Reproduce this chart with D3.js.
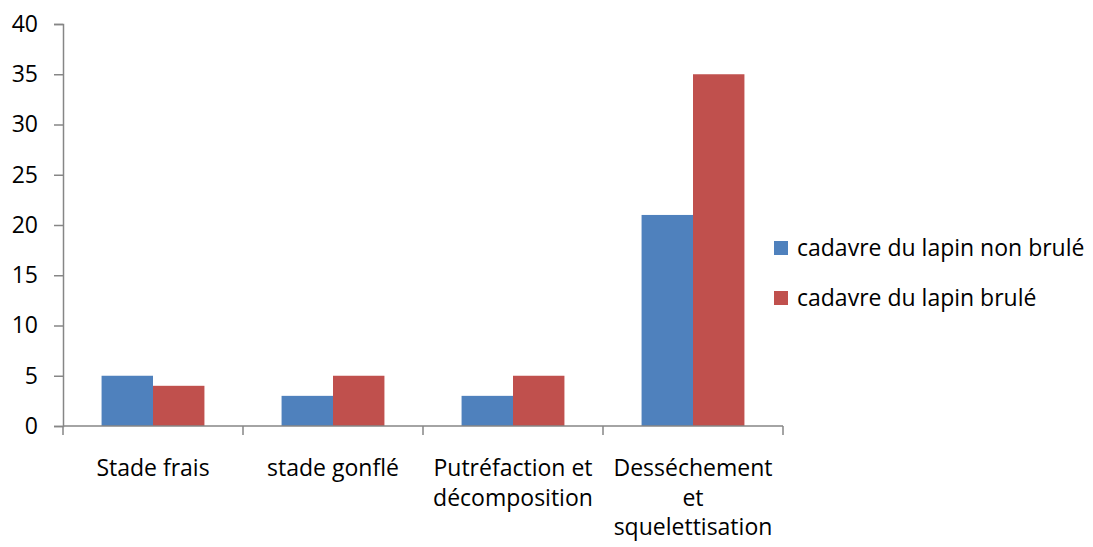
<!DOCTYPE html>
<html>
<head>
<meta charset="utf-8">
<script src="https://cdn.jsdelivr.net/npm/d3@7"></script>
<style>
  html, body { margin: 0; padding: 0; background: #fff; }
  svg { display: block; font-family: "Open Sans", Lato, sans-serif; }
</style>
</head>
<body>
<svg id="chart" width="1093" height="547"></svg>
<script>
// Stages of decomposition (category labels, split into lines)
const categories = ["Stade frais", "stade gonflé", "Putréfaction et décomposition", "Desséchement et squelettisation"];
const categoryLines = [["Stade frais"], ["stade gonflé"], ["Putréfaction et", "décomposition"], ["Desséchement", "et", "squelettisation"]];
const seriesNames = ["cadavre du lapin non brulé", "cadavre du lapin brulé"];
const nonBrule = [5, 3, 3, 21];
const brule = [4, 5, 5, 35];
const yTicks = [0, 5, 10, 15, 20, 25, 30, 35, 40];
const colors = ["#4F81BD", "#C0504D"];

const svg = d3.select("#chart");
const plotLeft = 63, plotRight = 783, plotTop = 24, plotBottom = 426;
const axisColor = "#868686";
const fontSize = 23;

const x = d3.scaleBand().domain(categories).range([plotLeft, plotRight]).paddingInner(0).paddingOuter(0);
const xInner = d3.scaleBand().domain(seriesNames).range([0, x.bandwidth()]).paddingOuter(0.75).paddingInner(0);
const y = d3.scaleLinear().domain([0, 40]).range([plotBottom, plotTop]);

const series = [nonBrule, brule];

// bars
series.forEach((vals, si) => {
  svg.append("g").selectAll("rect").data(vals).join("rect")
    .attr("x", (d, i) => x(categories[i]) + xInner(seriesNames[si]))
    .attr("y", d => y(d))
    .attr("width", xInner.bandwidth())
    .attr("height", d => y(0) - y(d))
    .attr("fill", colors[si]);
});

// y axis
const yAxis = svg.append("g").attr("transform", `translate(${plotLeft},0)`)
  .call(d3.axisLeft(y).tickValues(yTicks).tickSize(9).tickPadding(16));
yAxis.select(".domain").attr("stroke", axisColor).attr("stroke-width", 1.5);
yAxis.selectAll(".tick line").attr("stroke", axisColor).attr("stroke-width", 1.5);
yAxis.selectAll(".tick text").attr("font-size", fontSize).attr("fill", "#000")
  .attr("font-family", "'Open Sans', Lato, sans-serif");

// x axis with ticks at category boundaries
const xg = svg.append("g");
xg.append("line").attr("x1", plotLeft).attr("x2", plotRight).attr("y1", plotBottom).attr("y2", plotBottom)
  .attr("stroke", axisColor).attr("stroke-width", 1.5);
const boundaries = categories.map(c => x(c)).concat([x(categories[categories.length - 1]) + x.bandwidth()]);
xg.selectAll("line.tk").data(boundaries).join("line").attr("class", "tk")
  .attr("x1", d => d).attr("x2", d => d).attr("y1", plotBottom).attr("y2", plotBottom + 9)
  .attr("stroke", axisColor).attr("stroke-width", 1.5);

// category labels
categories.forEach((c, i) => {
  const cx = x(c) + x.bandwidth() / 2;
  const t = svg.append("text")
    .attr("x", cx)
    .attr("y", 476)
    .attr("text-anchor", "middle")
    .attr("font-size", fontSize)
    .attr("fill", "#000");
  categoryLines[i].forEach((line, li) => {
    t.append("tspan").attr("x", cx).attr("dy", li === 0 ? 0 : 29.5).text(line);
  });
});

// legend
const legend = svg.append("g");
seriesNames.forEach((name, i) => {
  const yy = 248 + i * 50;
  legend.append("rect").attr("x", 774).attr("y", yy - 7).attr("width", 14).attr("height", 14).attr("fill", colors[i]);
  legend.append("text").attr("x", 797).attr("y", yy + 8).attr("font-size", fontSize).attr("fill", "#000").text(name);
});
</script>
</body>
</html>
